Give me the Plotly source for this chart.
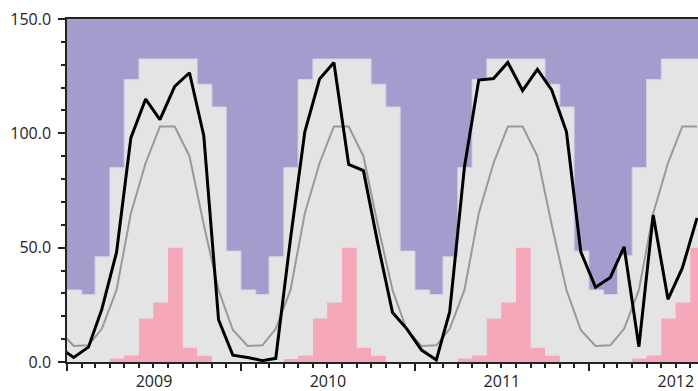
import pandas as pd
import plotly.graph_objects as go

# ---- data (monthly) ----
# month boundaries for step series: Jan 2009 ... Sep 2012 (last one closes Aug 2012)
month_starts = pd.date_range("2009-01-01", "2012-09-01", freq="MS")
# mid-month points for line series: Dec 2008 ... Aug 2012
mid_months = pd.date_range("2008-12-01", "2012-08-01", freq="MS") + pd.Timedelta(days=14)

# upper envelope (light grey step), Jan 2009 .. Aug 2012
upper_limit = [
    31.5, 29.5, 46, 85, 123.5, 132.5, 132.5, 132.5, 132.5, 121.5, 111.5, 48.5,
    31.5, 29.5, 46, 85, 123.5, 132.5, 132.5, 132.5, 132.5, 121.5, 111.5, 48.5,
    31.5, 29.5, 46, 85, 123.5, 132.5, 132.5, 132.5, 132.5, 121.5, 111.5, 48.5,
    31.5, 29.5, 46.5, 85, 123.5, 132.5, 132.5, 132.5,
]
# pink step bars, Jan 2009 .. Aug 2012
pink_values = [
    0, 0, 0, 1.5, 2.8, 19, 26, 50, 6.2, 2.7, 0, 0,
    0, 0, 0, 1.3, 2.8, 19, 26, 50, 6.2, 2.7, 0, 0,
    0, 0, 0, 1.5, 2.8, 19, 26, 50, 6.2, 2.7, 0, 0,
    0, 0, 0, 1.5, 2.8, 19, 26, 50,
]
# climatology (thin grey line), Dec 2008 .. Aug 2012
climatology = [
    14,
    7, 7.3, 14.5, 31.5, 65, 87, 103, 103, 90, 60, 31.5, 14,
    7, 7.3, 14.5, 31.5, 65, 87, 103, 103, 90, 60, 31.5, 14,
    7, 7.3, 14.5, 31.5, 65, 87, 103, 103, 90, 60, 31.5, 14,
    7, 7.3, 14.5, 31.5, 65, 87, 103, 103,
]
# observed (black line), Dec 2008 .. Aug 2012
observed = [
    6.5,
    2, 6.5, 23, 48, 98, 115, 106, 120.5, 126.5, 99, 18.5, 3,
    2, 0.6, 1.6, 54, 100.7, 123.8, 131, 86.4, 83.7, 52, 21.6, 14.5,
    5.2, 0.9, 22, 85.4, 123.3, 124, 131, 118.7, 128, 119, 100.7, 48.2,
    32.7, 37, 50.4, 6.7, 64.3, 27.4, 41, 63,
]

y_ticks = [0, 50, 100, 150]

PURPLE = "#a39dce"
LIGHT = "#e4e4e4"
PINK = "#f4a8ba"

fig = go.Figure()

fig.add_trace(go.Scatter(
    x=month_starts, y=upper_limit + [upper_limit[-1]],
    mode="lines", line=dict(shape="hv", color="#d6d3e8", width=1),
    fill="tozeroy", fillcolor=LIGHT, hoverinfo="skip", showlegend=False,
))
fig.add_trace(go.Scatter(
    x=month_starts, y=pink_values + [pink_values[-1]],
    mode="lines", line=dict(shape="hv", color=PINK, width=0),
    fill="tozeroy", fillcolor=PINK, hoverinfo="skip", showlegend=False,
))
fig.add_trace(go.Scatter(
    x=mid_months, y=climatology, mode="lines",
    line=dict(color="#999999", width=2), showlegend=False,
))
fig.add_trace(go.Scatter(
    x=mid_months, y=observed, mode="lines",
    line=dict(color="#000000", width=3), showlegend=False,
))

fig.update_layout(
    width=698, height=391,
    margin=dict(l=67, r=0, t=19, b=29),
    plot_bgcolor=PURPLE, paper_bgcolor="white",
    font=dict(family="Open Sans, sans-serif", size=16, color="#222222"),
    showlegend=False,
)
fig.update_xaxes(
    type="date", range=["2009-01-01", "2012-08-17"], automargin=False,
    tick0="2009-01-01", dtick="M12", tickformat="%Y", ticklabelmode="period",
    ticks="outside", ticklen=7, tickwidth=1.5, tickcolor="#222222",
    ticklabelstandoff=-3,
    showline=True, linecolor="#222222", linewidth=1.5, mirror=True,
    showgrid=False, zeroline=False,
    minor=dict(dtick="M1", ticks="outside", ticklen=4, tickwidth=1.5,
               tickcolor="#222222", showgrid=False),
)
fig.update_yaxes(
    range=[0, 150], tickvals=y_ticks, tickformat=".1f", automargin=False,
    ticks="outside", ticklen=7, tickwidth=1.5, tickcolor="#222222",
    ticklabelstandoff=4,
    showline=True, linecolor="#222222", linewidth=1.5,
    showgrid=False, zeroline=False,
    minor=dict(dtick=10, ticks="outside", ticklen=4, tickwidth=1.5,
               tickcolor="#222222", showgrid=False),
)

fig.write_html("out.html")
